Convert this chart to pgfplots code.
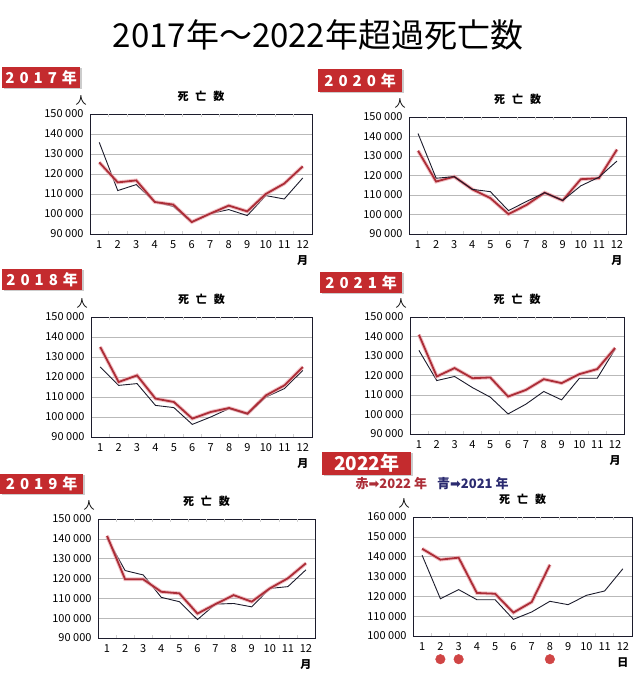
\documentclass[border=0pt]{standalone}
\usepackage{fontspec}
\setmainfont{Noto Sans CJK JP}
\newfontfamily\dejavu{DejaVu Sans}
\usepackage{pgfplots}
\pgfplotsset{compat=1.18}

\definecolor{redline}{HTML}{AC2D37}
\definecolor{redglow}{HTML}{EBA7AE}
\definecolor{blackline}{HTML}{1C1C2C}
\definecolor{boxred}{HTML}{C42B2E}
\definecolor{navy}{HTML}{2B2B70}
\definecolor{dotred}{HTML}{D04545}

\pgfplotsset{
  panel/.style={
    scale only axis, anchor=south west,
    xmin=0.5, xmax=12.5,
    xtick={1,...,12},
    scaled y ticks=false,
    /pgf/number format/assume math mode=true,
    ticklabel style={font=\fontsize{11}{12}\selectfont},
    xticklabel style={yshift=-3pt},
    yticklabel style={xshift=-3pt},
    major tick length=0pt,
    extra x ticks={1.5,2.5,...,11.5},
    extra x tick labels={},
    extra x tick style={grid=none, major tick length=3pt, tick align=inside,
      tick style={gray!35, line width=0.6pt}},
    ymajorgrids,
    grid style={gray!55, line width=0.6pt},
    axis line style={blackline, line width=0.9pt},
    title={死\hspace{7pt}亡\hspace{7pt}数},
    title style={at={(0.5,1)}, anchor=south, yshift=3pt,
      font=\bfseries\fontsize{11}{12}\selectfont},
    clip=false,
    extra description/.code={
      \node[font=\fontsize{11}{12}\selectfont] at (rel axis cs:0,1) [xshift=-9pt, yshift=14pt] {人};
      \node[font=\bfseries\fontsize{11}{12}\selectfont] at (rel axis cs:0.9583,0) [yshift=-27pt] {#1};
    },
  },
  panel/.default={月},
  y90/.style={ymin=90000, ymax=150000,
    ytick={90000,100000,...,150000},
    yticklabels={90 000,100 000,110 000,120 000,130 000,140 000,150 000}},
  glow/.style={redglow, line width=3.8pt, opacity=0.7},
  thick red/.style={redline, line width=1.8pt},
  thin black/.style={blackline, line width=0.9pt},
}

\newcommand{\yearbox}[5]{%
  \fill[black!20] (#1pt+1.5pt,#2pt-1.5pt) rectangle ++(#3pt,-#4pt);
  \node[fill=boxred, text=white, anchor=north west, inner sep=0pt,
    minimum width=#3pt, minimum height=#4pt,
    font=\bfseries\fontsize{15}{15}\selectfont] at (#1pt,#2pt) {#5};}

\begin{document}
\begin{tikzpicture}
\path (0,0) rectangle (640pt,684pt);

\node[font=\fontsize{33}{35}\selectfont] at (318pt,649pt) {2017年～2022年超過死亡数};

\yearbox{2}{617}{78}{21}{2\hspace{5pt}0\hspace{5pt}1\hspace{5pt}7\hspace{5pt}年}
\yearbox{318}{615}{84}{23}{2\hspace{5pt}0\hspace{5pt}2\hspace{5pt}0\hspace{5pt}年}
\yearbox{2}{415}{80}{21}{2\hspace{5pt}0\hspace{5pt}1\hspace{5pt}8\hspace{5pt}年}
\yearbox{320}{412}{82}{21}{2\hspace{5pt}0\hspace{5pt}2\hspace{5pt}1\hspace{5pt}年}
\yearbox{0}{210}{83}{20}{2\hspace{5pt}0\hspace{5pt}1\hspace{5pt}9\hspace{5pt}年}
\yearbox{322}{232}{89}{23}{\fontsize{19}{19}\selectfont 2022年}

\node[anchor=west, font=\bfseries\fontsize{13}{14}\selectfont] at (352pt,200pt)
  {\textcolor{redline}{赤{\dejavu ➡}2022 年}\hspace{10pt}\textcolor{navy}{青{\dejavu ➡}2021 年}};

% 2017
\begin{axis}[panel, y90, at={(90pt,450pt)}, width=222pt, height=120pt]
\addplot[thin black] coordinates {(1,135800) (2,111700) (3,114700) (4,106000) (5,103800) (6,95800) (7,100200) (8,102200) (9,99200) (10,109200) (11,107500) (12,118000)};
\addplot[glow] coordinates {(1,125800) (2,115800) (3,116800) (4,106000) (5,104700) (6,96000) (7,100200) (8,104200) (9,101300) (10,110000) (11,115200) (12,123800)};
\addplot[thick red] coordinates {(1,125800) (2,115800) (3,116800) (4,106000) (5,104700) (6,96000) (7,100200) (8,104200) (9,101300) (10,110000) (11,115200) (12,123800)};
\end{axis}

% 2020
\begin{axis}[panel, y90, at={(409pt,450pt)}, width=217pt, height=117pt]
\addplot[glow] coordinates {(1,132700) (2,116900) (3,119400) (4,112900) (5,108400) (6,100200) (7,104900) (8,111200) (9,107200) (10,118100) (11,118600) (12,133300)};
\addplot[thick red] coordinates {(1,132700) (2,116900) (3,119400) (4,112900) (5,108400) (6,100200) (7,104900) (8,111200) (9,107200) (10,118100) (11,118600) (12,133300)};
\addplot[thin black] coordinates {(1,141500) (2,118600) (3,119400) (4,112900) (5,111700) (6,102000) (7,106700) (8,111200) (9,107200) (10,114700) (11,119100) (12,127400)};
\end{axis}

% 2018
\begin{axis}[panel, y90, at={(91pt,247pt)}, width=221pt, height=120pt]
\addplot[thin black] coordinates {(1,125000) (2,115800) (3,116700) (4,105800) (5,104700) (6,96300) (7,100000) (8,104200) (9,101300) (10,110000) (11,114200) (12,123300)};
\addplot[glow] coordinates {(1,135000) (2,117500) (3,120800) (4,109200) (5,107500) (6,99200) (7,102500) (8,104500) (9,101700) (10,110800) (11,115800) (12,125000)};
\addplot[thick red] coordinates {(1,135000) (2,117500) (3,120800) (4,109200) (5,107500) (6,99200) (7,102500) (8,104500) (9,101700) (10,110800) (11,115800) (12,125000)};
\end{axis}

% 2021
\begin{axis}[panel, y90, at={(410pt,250pt)}, width=214pt, height=117pt]
\addplot[thin black] coordinates {(1,132900) (2,117400) (3,119500) (4,113800) (5,108900) (6,100300) (7,105300) (8,111800) (9,107500) (10,118600) (11,118600) (12,133500)};
\addplot[glow] coordinates {(1,140900) (2,119500) (3,123800) (4,118600) (5,119000) (6,109200) (7,112600) (8,118100) (9,116100) (10,120700) (11,123300) (12,134100)};
\addplot[thick red] coordinates {(1,140900) (2,119500) (3,123800) (4,118600) (5,119000) (6,109200) (7,112600) (8,118100) (9,116100) (10,120700) (11,123300) (12,134100)};
\end{axis}

% 2019
\begin{axis}[panel, y90, at={(98pt,46pt)}, width=217pt, height=119pt]
\addplot[thin black] coordinates {(1,140400) (2,124000) (3,121800) (4,110500) (5,108300) (6,99300) (7,107100) (8,107400) (9,105700) (10,115000) (11,115900) (12,124400)};
\addplot[glow] coordinates {(1,141500) (2,119600) (3,119600) (4,113300) (5,112500) (6,102300) (7,107100) (8,111600) (9,108300) (10,115000) (11,120100) (12,127700)};
\addplot[thick red] coordinates {(1,141500) (2,119600) (3,119600) (4,113300) (5,112500) (6,102300) (7,107100) (8,111600) (9,108300) (10,115000) (11,120100) (12,127700)};
\end{axis}

% 2022
\begin{axis}[panel=日, at={(413pt,48pt)}, width=219pt, height=119pt,
  ymin=100000, ymax=160000, ytick={100000,110000,...,160000},
  yticklabels={100 000,110 000,120 000,130 000,140 000,150 000,160 000}]
\addplot[thin black] coordinates {(1,140700) (2,118800) (3,123400) (4,118300) (5,118300) (6,108400) (7,112100) (8,117500) (9,115800) (10,120500) (11,122700) (12,133900)};
\addplot[glow] coordinates {(1,144000) (2,138500) (3,139500) (4,121700) (5,121300) (6,111800) (7,117100) (8,135900)};
\addplot[thick red] coordinates {(1,144000) (2,138500) (3,139500) (4,121700) (5,121300) (6,111800) (7,117100) (8,135900)};
\addplot[only marks, mark=*, mark size=4.8pt, dotred] coordinates {(2,88300) (3,88300) (8,88300)};
\end{axis}
\end{tikzpicture}
\end{document}
